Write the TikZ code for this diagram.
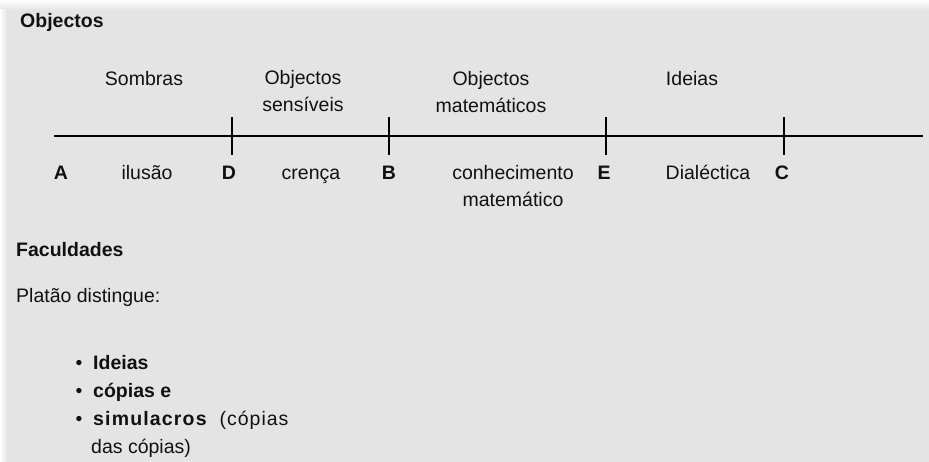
\documentclass[tikz,border=0pt]{standalone}
\usepackage{fontspec}
\setmainfont{Liberation Sans}
\usetikzlibrary{positioning}
\definecolor{panel}{HTML}{E4E4E4}
\definecolor{ink}{HTML}{111111}

\begin{document}
\begin{tikzpicture}[x=1pt,y=-1pt,
    txt/.style={anchor=base,inner sep=0pt,text=ink,align=center,
        font=\fontsize{19.5}{27}\selectfont},
    head/.style={txt,anchor=base west,font=\fontsize{19.5}{27}\selectfont\bfseries},
    pnt/.style={txt,font=\fontsize{19.5}{27}\selectfont\bfseries},
    axis/.style={line width=1.8pt,draw=black}]
    % fundo
    \fill[white] (0,0) rectangle (929,462);
    \shade[top color=white,bottom color=panel] (0,0) rectangle (929,10);
    \shade[left color=white,right color=panel] (0,10) rectangle (7,462);
    \fill[panel] (7,10) rectangle (929,462);

    \node[head] (objectos) at (20,28) {Objectos};

    % linha dividida
    \coordinate (inicio) at (54,136);
    \coordinate (fim) at (923,136);
    \draw[axis] (inicio) -- (fim);
    \foreach \p/\x in {D/232, B/389, E/606, C/784}{
        \coordinate (t\p) at (\x,136);
        \draw[axis] ([yshift=19pt]t\p) -- ([yshift=-19pt]t\p);
    }

    % pontos
    \foreach \p/\x in {A/61, D/229, B/389, E/604, C/782}
        \node[pnt] (p\p) at (\x,180) {\p};

    % faculdades (base = ultima linha)
    \node[txt] (ilusao) at (147,180) {ilusão};
    \node[txt] (crenca) at (311,180) {crença};
    \node[txt] (conhec) at (513,207) {conhecimento\\matemático};
    \node[txt] (dialec) at (708,180) {Dialéctica};

    % objectos
    \node[txt] (sombras) at (144,86) {Sombras};
    \node[txt] (sensiveis) at (303,112) {Objectos\\sensíveis};
    \node[txt] (matematicos) at (491,113) {Objectos\\matemáticos};
    \node[txt] (ideias) at (692,86) {Ideias};

    \node[head] (faculdades) at (16,257) {Faculdades};
    \node[txt,anchor=base west] (platao) at (16,302) {Platão distingue:};

    % lista
    \foreach \i/\y in {1/369, 2/397, 3/425}
        \node[txt] (b\i) at (79,\y) {\textbullet};
    \node[head] (l1) at (93,369) {Ideias};
    \node[head] (l2) at (93,397) {cópias e};
    \node[txt,anchor=base west] (l3) at (93,425)
        {{\bfseries\addfontfeature{LetterSpace=6}simulacros}\hspace{13pt}{\addfontfeature{LetterSpace=5}(cópias}};
    \node[txt,anchor=base west] (l4) at (91,453) {das cópias)};
\end{tikzpicture}
\end{document}
